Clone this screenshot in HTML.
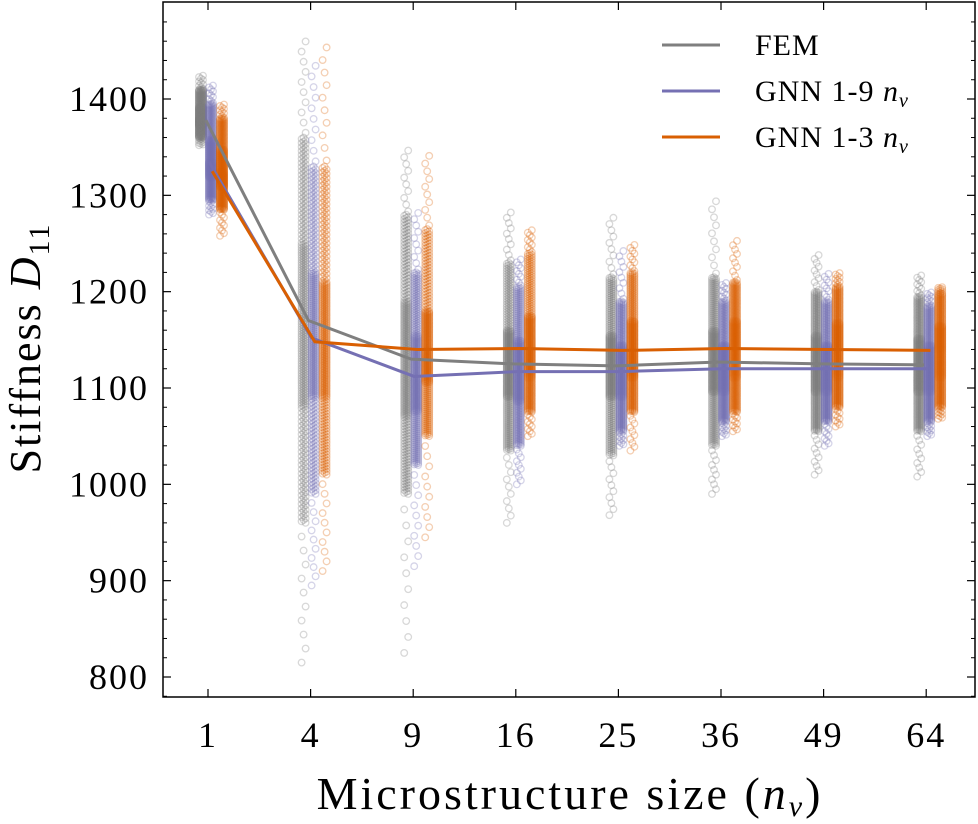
<!DOCTYPE html>
<html><head><meta charset="utf-8"><style>
html,body{margin:0;padding:0;background:#fff;}
svg{display:block;font-family:"Liberation Serif",serif;}
</style></head><body>
<svg id="chart" width="978" height="824" xmlns="http://www.w3.org/2000/svg">
<g id="points"></g>
<g id="lines"></g>
<g id="axes"></g>
<g id="legend"></g>
</svg>
<script>
const categories = ["1","4","9","16","25","36","49","64"];
const yTicks = [800,900,1000,1100,1200,1300,1400];
const femMean = [1378,1170,1130,1125,1123,1127,1125,1124];
const gnn9Mean = [1335,1152,1112,1117,1117,1120,1120,1120];
const gnn3Mean = [1325,1148,1140,1141,1139,1141,1140,1139];
// quantiles [min,p5,p25,p50,p75,p95,max]
const femQ = [[1352,1360,1372,1380,1392,1410,1425],[815,960,1080,1165,1250,1360,1465],[825,990,1070,1130,1190,1280,1350],[960,1035,1090,1125,1160,1230,1285],[968,1030,1090,1123,1155,1215,1280],[990,1040,1095,1127,1160,1215,1298],[1010,1055,1095,1125,1155,1200,1240],[1008,1055,1095,1124,1152,1195,1218]];
const gnn9Q = [[1280,1295,1318,1335,1358,1395,1415],[895,990,1090,1152,1220,1330,1440],[915,1020,1075,1112,1155,1220,1285],[1000,1040,1085,1117,1150,1205,1235],[1040,1055,1090,1117,1145,1190,1245],[1050,1065,1095,1120,1145,1190,1210],[1040,1065,1095,1120,1145,1190,1220],[1050,1065,1095,1120,1145,1185,1200]];
const gnn3Q = [[1258,1285,1308,1325,1348,1380,1395],[910,1010,1090,1148,1210,1330,1460],[945,1050,1105,1140,1180,1265,1345],[1050,1075,1110,1141,1175,1240,1265],[1035,1075,1110,1139,1170,1220,1250],[1055,1075,1110,1141,1170,1210,1255],[1060,1080,1110,1140,1168,1205,1220],[1068,1080,1110,1139,1165,1198,1205]];
const series = [
 {name:"FEM",label:"FEM",color:"#7f7f7f",mean:femMean,q:femQ,off:-7},
 {name:"gnn-1-9",label:"GNN 1-9 ",color:"#7570b3",mean:gnn9Mean,q:gnn9Q,off:3},
 {name:"gnn-1-3",label:"GNN 1-3 ",color:"#d95f02",mean:gnn3Mean,q:gnn3Q,off:14}
];
const L=163,R=975,T=2,B=697;
const xPos = i => 208 + i*102.6;
const yPos = v => 677 - (v-800)*(578/600);
const NS="http://www.w3.org/2000/svg";
function mk(tag,attrs,parent){const e=document.createElementNS(NS,tag);for(const k in attrs)e.setAttribute(k,attrs[k]);parent.appendChild(e);return e;}
const gp=document.getElementById('points'),gl=document.getElementById('lines'),ga=document.getElementById('axes'),gg=document.getElementById('legend');
const qs=[0,0.05,0.25,0.5,0.75,0.95,1];
function quant(q,p){for(let k=1;k<qs.length;k++){if(p<=qs[k]){const t=(p-qs[k-1])/(qs[k]-qs[k-1]);return q[k-1]+t*(q[k]-q[k-1]);}}return q[6];}
const N=400;
series.forEach(s=>{
 s.q.forEach((q,i)=>{
  for(let j=0;j<N;j++){
   const p=j/(N-1);
   const tail=(p<0.05||p>0.95);
   if(tail && j%2) continue;
   const v=quant(q,p);
   const c=mk('circle',{cx:xPos(i)+s.off+((j%3)-1)*2,cy:yPos(v),r:3.3,fill:'none',stroke:s.color,'stroke-opacity':0.3,'stroke-width':1.3},gp);
   
   
  }
 });
});
series.forEach(s=>{
 const d=s.mean.map((v,i)=>(i?'L':'M')+(xPos(i)+s.off*0.3)+','+yPos(v)).join(' ');
 const p=mk('path',{d:d,fill:'none',stroke:s.color,'stroke-width':3},gl);
 
 
});
const frame=mk('rect',{x:L,y:T,width:R-L,height:B-T,fill:'none',stroke:'#000','stroke-width':1.5},ga);


yTicks.forEach(v=>{
 const y=yPos(v);
 mk('line',{x1:L,x2:L+8,y1:y,y2:y,stroke:'#000','stroke-width':1.2},ga);
 mk('line',{x1:R,x2:R-8,y1:y,y2:y,stroke:'#000','stroke-width':1.2},ga);
 const t=mk('text',{x:L-14,y:y+12,'text-anchor':'end','font-size':36,'letter-spacing':2},ga);t.textContent=v;
 
 
});
for(let v=780;v<=1480;v+=20){if(v%100===0)continue;const y=yPos(v);if(y<T||y>B)continue;
 mk('line',{x1:L,x2:L+4,y1:y,y2:y,stroke:'#000','stroke-width':1},ga);
 mk('line',{x1:R,x2:R-4,y1:y,y2:y,stroke:'#000','stroke-width':1},ga);}
categories.forEach((c,i)=>{
 const x=xPos(i);
 mk('line',{x1:x,x2:x,y1:B,y2:B-8,stroke:'#000','stroke-width':1.2},ga);
 mk('line',{x1:x,x2:x,y1:T,y2:T+8,stroke:'#000','stroke-width':1.2},ga);
 const t=mk('text',{x:x,y:B+50,'text-anchor':'middle','font-size':36,'letter-spacing':2},ga);t.textContent=c;
 
 
});
const xl=mk('text',{x:570,y:809,'text-anchor':'middle','font-size':46,'letter-spacing':3},ga);
xl.innerHTML='Microstructure size (<tspan font-style="italic">n</tspan><tspan font-style="italic" font-size="30" dy="7">v</tspan><tspan dy="-7">)</tspan>';


const yl=mk('text',{x:0,y:0,'text-anchor':'middle','font-size':44,'letter-spacing':2,transform:'translate(40,348) rotate(-90)'},ga);
yl.innerHTML='Stiffness <tspan font-style="italic">D</tspan><tspan font-size="30" dy="9">11</tspan>';


series.forEach((s,k)=>{
 const y=45+k*46;
 const ln=mk('line',{x1:662,x2:720,y1:y,y2:y,stroke:s.color,'stroke-width':3},gg);
 
 
 const t=mk('text',{x:755,y:y+10,'font-size':30,'letter-spacing':1},gg);
 t.innerHTML=s.label+(k?'<tspan font-style="italic">n</tspan><tspan font-style="italic" font-size="20" dy="6">v</tspan>':'');
 
 
});
</script>
</body></html>
